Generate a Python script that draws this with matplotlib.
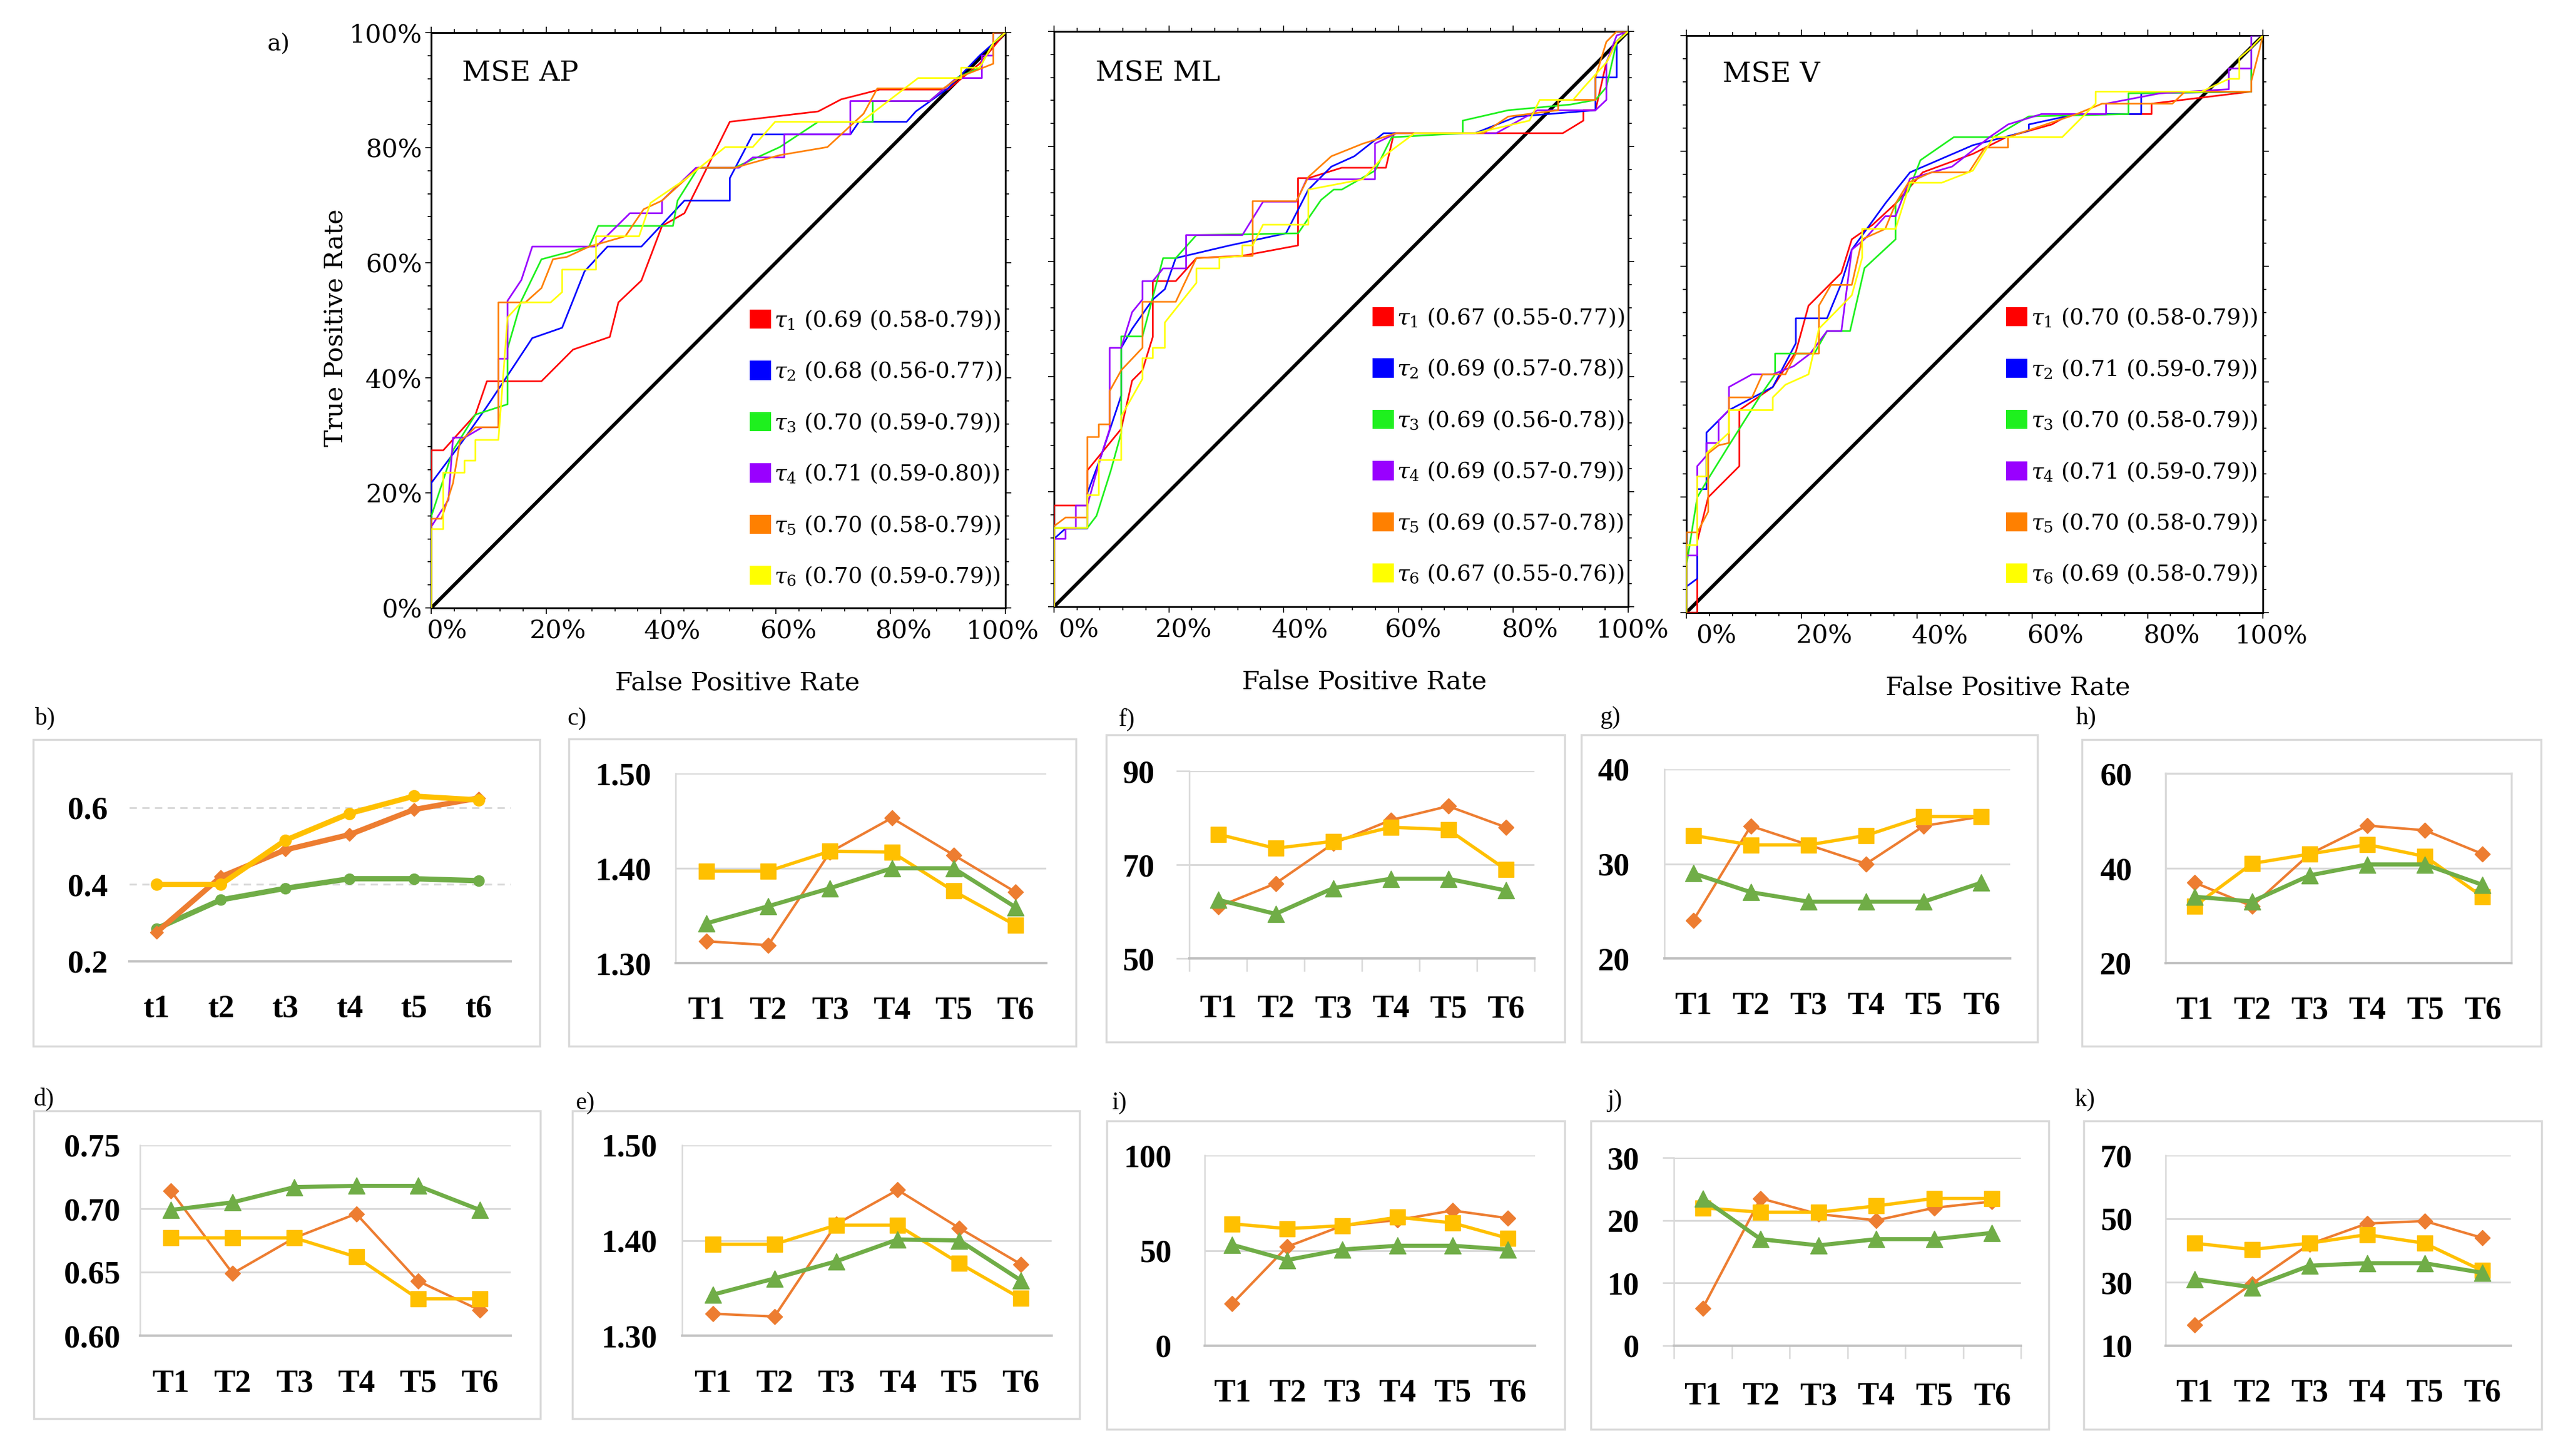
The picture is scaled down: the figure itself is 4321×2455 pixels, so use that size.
import matplotlib
matplotlib.use('Agg')
import matplotlib.pyplot as plt
from matplotlib.patches import Patch, Rectangle
from matplotlib.ticker import MultipleLocator, PercentFormatter, FixedLocator
from matplotlib.transforms import ScaledTranslation

plt.rcParams['font.family'] = ['DejaVu Serif']
plt.rcParams['mathtext.fontset'] = 'dejavuserif'

W, H = 4321, 2455
fig = plt.figure(figsize=(W / 100, H / 100), dpi=100)
fig.patch.set_facecolor('white')

# ---------------- ROC data (FPR, TPR) ----------------
tau_names = ['1', '2', '3', '4', '5', '6']
roc_colors = ['#FF0000', '#0000FF', '#1EF01E', '#9900FF', '#FF8000', '#FFFF00']
chance = [0, 1]
rate_ticks = [0, 0.2, 0.4, 0.6, 0.8, 1.0]

ap_auc = ['0.69 (0.58-0.79)', '0.68 (0.56-0.77)', '0.70 (0.59-0.79)',
          '0.71 (0.59-0.80)', '0.70 (0.58-0.79)', '0.70 (0.59-0.79)']
ml_auc = ['0.67 (0.55-0.77)', '0.69 (0.57-0.78)', '0.69 (0.56-0.78)',
          '0.69 (0.57-0.79)', '0.69 (0.57-0.78)', '0.67 (0.55-0.76)']
v_auc = ['0.70 (0.58-0.79)', '0.71 (0.59-0.79)', '0.70 (0.58-0.79)',
         '0.71 (0.59-0.79)', '0.70 (0.58-0.79)', '0.69 (0.58-0.79)']

ap_fpr_1 = [0, 0, 0.021, 0.077, 0.097, 0.192, 0.247, 0.311, 0.326, 0.366, 0.402, 0.441, 0.520, 0.674, 0.714, 0.781, 0.900, 0.955, 1.0]
ap_tpr_1 = [0, 0.274, 0.274, 0.336, 0.394, 0.394, 0.449, 0.471, 0.531, 0.569, 0.664, 0.686, 0.845, 0.863, 0.884, 0.901, 0.901, 0.946, 1.0]
ap_fpr_2 = [0, 0, 0.054, 0.097, 0.133, 0.176, 0.228, 0.267, 0.307, 0.366, 0.441, 0.520, 0.520, 0.560, 0.730, 0.745, 0.828, 0.844, 0.900, 0.955, 1.0]
ap_tpr_2 = [0, 0.217, 0.289, 0.350, 0.404, 0.469, 0.487, 0.585, 0.628, 0.628, 0.708, 0.708, 0.747, 0.823, 0.823, 0.845, 0.845, 0.863, 0.903, 0.960, 1.0]
ap_fpr_3 = [0, 0, 0.038, 0.077, 0.133, 0.133, 0.157, 0.192, 0.275, 0.291, 0.421, 0.429, 0.465, 0.528, 0.607, 0.674, 0.769, 0.769, 0.868, 0.915, 0.955, 0.979, 1.0]
ap_tpr_3 = [0, 0.159, 0.274, 0.336, 0.354, 0.451, 0.534, 0.606, 0.628, 0.664, 0.664, 0.708, 0.765, 0.765, 0.801, 0.845, 0.845, 0.881, 0.881, 0.921, 0.939, 0.982, 1.0]
ap_fpr_4 = [0, 0, 0.030, 0.038, 0.058, 0.089, 0.117, 0.117, 0.133, 0.133, 0.157, 0.176, 0.287, 0.346, 0.402, 0.402, 0.461, 0.536, 0.560, 0.615, 0.615, 0.730, 0.730, 0.868, 0.915, 0.959, 0.959, 0.979, 0.979, 1.0]
ap_tpr_4 = [0, 0.141, 0.188, 0.296, 0.296, 0.314, 0.314, 0.433, 0.433, 0.534, 0.570, 0.628, 0.628, 0.686, 0.686, 0.708, 0.765, 0.765, 0.783, 0.783, 0.823, 0.823, 0.881, 0.881, 0.921, 0.921, 0.960, 0.960, 1.0, 1.0]
ap_fpr_5 = [0, 0, 0.018, 0.038, 0.050, 0.077, 0.117, 0.117, 0.164, 0.192, 0.212, 0.236, 0.275, 0.338, 0.370, 0.402, 0.465, 0.528, 0.607, 0.690, 0.753, 0.777, 0.892, 0.923, 0.979, 0.979, 1.0]
ap_tpr_5 = [0, 0.155, 0.155, 0.217, 0.289, 0.314, 0.314, 0.531, 0.531, 0.556, 0.606, 0.610, 0.628, 0.646, 0.693, 0.708, 0.765, 0.765, 0.787, 0.801, 0.859, 0.903, 0.903, 0.924, 0.946, 1.0, 1.0]
ap_fpr_6 = [0, 0, 0.021, 0.021, 0.058, 0.058, 0.077, 0.077, 0.117, 0.133, 0.157, 0.208, 0.228, 0.228, 0.287, 0.287, 0.362, 0.382, 0.441, 0.512, 0.560, 0.599, 0.749, 0.848, 0.923, 0.923, 0.955, 0.979, 1.0]
ap_tpr_6 = [0, 0.137, 0.137, 0.235, 0.235, 0.256, 0.256, 0.292, 0.292, 0.505, 0.531, 0.531, 0.549, 0.588, 0.588, 0.646, 0.646, 0.704, 0.744, 0.801, 0.801, 0.845, 0.845, 0.921, 0.921, 0.939, 0.939, 0.982, 1.0]

ml_fpr_1 = [0, 0, 0.058, 0.058, 0.117, 0.136, 0.154, 0.172, 0.172, 0.212, 0.248, 0.328, 0.425, 0.425, 0.443, 0.501, 0.578, 0.592, 0.886, 0.922, 0.922, 0.943, 0.962, 0.980, 1.0]
ml_tpr_1 = [0, 0.176, 0.176, 0.237, 0.309, 0.393, 0.411, 0.469, 0.566, 0.566, 0.606, 0.610, 0.628, 0.745, 0.745, 0.763, 0.763, 0.823, 0.823, 0.845, 0.863, 0.863, 0.946, 0.982, 1.0]
ml_fpr_2 = [0, 0, 0.020, 0.058, 0.058, 0.081, 0.117, 0.117, 0.136, 0.172, 0.193, 0.212, 0.306, 0.404, 0.443, 0.483, 0.523, 0.574, 0.733, 0.806, 0.943, 0.943, 0.980, 0.980, 1.0]
ml_tpr_2 = [0, 0.118, 0.136, 0.136, 0.197, 0.259, 0.367, 0.450, 0.483, 0.534, 0.552, 0.606, 0.628, 0.649, 0.725, 0.765, 0.783, 0.823, 0.823, 0.852, 0.863, 0.920, 0.920, 0.982, 1.0]
ml_fpr_3 = [0, 0, 0.058, 0.074, 0.099, 0.117, 0.117, 0.154, 0.190, 0.212, 0.248, 0.425, 0.465, 0.487, 0.501, 0.559, 0.588, 0.712, 0.712, 0.791, 0.900, 0.943, 0.962, 0.980, 1.0]
ml_tpr_3 = [0, 0.137, 0.137, 0.158, 0.237, 0.302, 0.470, 0.470, 0.606, 0.606, 0.646, 0.649, 0.707, 0.725, 0.725, 0.758, 0.816, 0.823, 0.845, 0.863, 0.873, 0.881, 0.903, 0.982, 1.0]
ml_fpr_4 = [0, 0, 0.020, 0.020, 0.038, 0.038, 0.058, 0.081, 0.097, 0.097, 0.117, 0.136, 0.154, 0.154, 0.172, 0.190, 0.230, 0.230, 0.328, 0.364, 0.422, 0.440, 0.559, 0.559, 0.596, 0.770, 0.842, 0.943, 0.962, 0.962, 0.980, 1.0]
ml_tpr_4 = [0, 0.118, 0.118, 0.136, 0.136, 0.176, 0.176, 0.259, 0.309, 0.450, 0.450, 0.512, 0.534, 0.566, 0.566, 0.588, 0.588, 0.646, 0.646, 0.704, 0.704, 0.743, 0.743, 0.805, 0.823, 0.823, 0.863, 0.863, 0.881, 0.946, 0.993, 1.0]
ml_fpr_5 = [0, 0, 0.020, 0.058, 0.058, 0.078, 0.078, 0.097, 0.097, 0.117, 0.154, 0.154, 0.212, 0.248, 0.346, 0.346, 0.422, 0.443, 0.483, 0.538, 0.596, 0.748, 0.791, 0.878, 0.878, 0.943, 0.943, 0.962, 0.980, 1.0]
ml_tpr_5 = [0, 0.140, 0.155, 0.155, 0.295, 0.295, 0.317, 0.317, 0.375, 0.411, 0.450, 0.530, 0.530, 0.606, 0.610, 0.705, 0.705, 0.747, 0.783, 0.805, 0.823, 0.823, 0.852, 0.863, 0.881, 0.881, 0.920, 0.982, 1.0, 1.0]
ml_fpr_6 = [0, 0, 0.058, 0.058, 0.078, 0.078, 0.117, 0.117, 0.154, 0.154, 0.172, 0.172, 0.193, 0.193, 0.248, 0.248, 0.288, 0.288, 0.328, 0.328, 0.346, 0.364, 0.443, 0.443, 0.538, 0.574, 0.628, 0.733, 0.828, 0.846, 0.904, 0.922, 0.962, 0.980, 1.0]
ml_tpr_6 = [0, 0.137, 0.137, 0.194, 0.194, 0.255, 0.255, 0.331, 0.396, 0.432, 0.432, 0.450, 0.450, 0.494, 0.563, 0.588, 0.588, 0.606, 0.610, 0.628, 0.628, 0.664, 0.664, 0.725, 0.743, 0.783, 0.823, 0.823, 0.845, 0.881, 0.881, 0.902, 0.946, 0.982, 1.0]

v_fpr_1 = [0, 0.019, 0.019, 0.038, 0.092, 0.092, 0.150, 0.190, 0.212, 0.269, 0.287, 0.323, 0.363, 0.410, 0.497, 0.555, 0.634, 0.666, 0.807, 0.807, 0.980, 0.980, 1.0]
v_tpr_1 = [0, 0, 0.124, 0.200, 0.254, 0.351, 0.391, 0.452, 0.532, 0.589, 0.647, 0.672, 0.709, 0.763, 0.795, 0.824, 0.846, 0.864, 0.864, 0.882, 0.903, 1.0, 1.0]
v_fpr_2 = [0, 0, 0.019, 0.019, 0.035, 0.035, 0.074, 0.150, 0.190, 0.190, 0.244, 0.269, 0.287, 0.345, 0.388, 0.497, 0.594, 0.594, 0.677, 0.789, 0.789, 0.980, 0.980, 1.0]
v_tpr_2 = [0, 0.045, 0.059, 0.214, 0.214, 0.312, 0.351, 0.391, 0.467, 0.510, 0.510, 0.571, 0.629, 0.709, 0.763, 0.810, 0.835, 0.846, 0.864, 0.864, 0.900, 0.903, 1.0, 1.0]
v_fpr_3 = [0, 0, 0.019, 0.038, 0.074, 0.129, 0.154, 0.154, 0.222, 0.244, 0.284, 0.309, 0.363, 0.363, 0.385, 0.406, 0.464, 0.533, 0.594, 0.767, 0.767, 0.980, 0.980, 1.0]
v_tpr_3 = [0, 0.081, 0.200, 0.232, 0.290, 0.377, 0.413, 0.449, 0.449, 0.488, 0.488, 0.597, 0.647, 0.709, 0.730, 0.784, 0.824, 0.824, 0.860, 0.864, 0.900, 0.903, 1.0, 1.0]
v_fpr_4 = [0, 0, 0.019, 0.019, 0.035, 0.035, 0.056, 0.056, 0.074, 0.074, 0.114, 0.150, 0.186, 0.215, 0.244, 0.269, 0.287, 0.309, 0.345, 0.363, 0.388, 0.461, 0.526, 0.558, 0.616, 0.728, 0.728, 0.822, 0.941, 0.941, 0.980, 0.980, 1.0]
v_tpr_4 = [0, 0.099, 0.099, 0.254, 0.272, 0.294, 0.294, 0.333, 0.351, 0.391, 0.413, 0.413, 0.427, 0.449, 0.488, 0.488, 0.629, 0.647, 0.687, 0.687, 0.752, 0.773, 0.824, 0.846, 0.864, 0.864, 0.882, 0.900, 0.907, 0.943, 0.943, 1.0, 1.0]
v_fpr_5 = [0, 0, 0.019, 0.038, 0.038, 0.056, 0.074, 0.074, 0.114, 0.132, 0.172, 0.190, 0.230, 0.230, 0.251, 0.287, 0.305, 0.345, 0.363, 0.385, 0.425, 0.490, 0.518, 0.558, 0.558, 0.677, 0.721, 0.843, 0.865, 0.980, 0.980, 0.995, 1.0]
v_tpr_5 = [0, 0.139, 0.139, 0.175, 0.276, 0.290, 0.294, 0.373, 0.373, 0.413, 0.413, 0.449, 0.449, 0.532, 0.568, 0.568, 0.647, 0.665, 0.709, 0.745, 0.763, 0.763, 0.806, 0.806, 0.824, 0.864, 0.882, 0.882, 0.903, 0.903, 0.921, 0.979, 1.0]
v_fpr_6 = [0, 0, 0.019, 0.019, 0.035, 0.035, 0.074, 0.074, 0.150, 0.150, 0.172, 0.212, 0.230, 0.287, 0.305, 0.305, 0.363, 0.388, 0.443, 0.497, 0.533, 0.652, 0.710, 0.710, 0.894, 0.941, 0.959, 0.959, 0.980, 1.0]
v_tpr_6 = [0, 0.117, 0.117, 0.236, 0.236, 0.276, 0.312, 0.351, 0.351, 0.373, 0.395, 0.413, 0.492, 0.550, 0.615, 0.665, 0.665, 0.745, 0.745, 0.766, 0.824, 0.824, 0.882, 0.903, 0.903, 0.925, 0.925, 0.961, 0.979, 1.0]

# ---------------- line-chart data ----------------
cats_lower = ['t1', 't2', 't3', 't4', 't5', 't6']
cats_upper = ['T1', 'T2', 'T3', 'T4', 'T5', 'T6']

b_orange = [0.275, 0.42, 0.49, 0.53, 0.595, 0.625]
b_yellow = [0.40, 0.40, 0.515, 0.585, 0.63, 0.62]
b_green = [0.285, 0.36, 0.39, 0.415, 0.415, 0.41]

c_orange = [1.323, 1.319, 1.417, 1.453, 1.414, 1.375]
c_yellow = [1.397, 1.397, 1.418, 1.417, 1.376, 1.340]
c_green = [1.342, 1.360, 1.379, 1.400, 1.400, 1.359]

d_orange = [0.714, 0.649, 0.677, 0.696, 0.643, 0.620]
d_yellow = [0.677, 0.677, 0.677, 0.662, 0.629, 0.629]
d_green = [0.699, 0.705, 0.717, 0.718, 0.718, 0.699]

e_orange = [1.323, 1.320, 1.417, 1.453, 1.413, 1.375]
e_yellow = [1.396, 1.396, 1.416, 1.416, 1.376, 1.339]
e_green = [1.343, 1.360, 1.378, 1.401, 1.400, 1.358]

f_orange = [61, 66, 74.5, 79.5, 82.5, 78]
f_yellow = [76.5, 73.5, 75, 78, 77.5, 69]
f_green = [62.5, 59.5, 65, 67, 67, 64.5]

g_orange = [24, 34, 32, 30, 34, 35]
g_yellow = [33, 32, 32, 33, 35, 35]
g_green = [29, 27, 26, 26, 26, 28]

h_orange = [37, 32, 43, 49, 48, 43]
h_yellow = [32, 41, 43, 45, 42.5, 34]
h_green = [34, 33, 38.5, 40.8, 40.8, 36.5]

i_orange = [22, 52, 63, 66, 71, 67]
i_yellow = [64, 61.5, 63, 67.5, 64.5, 56.5]
i_green = [53, 45, 50.5, 52.5, 52.5, 50.5]

j_orange = [6, 23.5, 21, 20, 22, 23]
j_yellow = [22, 21.3, 21.3, 22.3, 23.5, 23.5]
j_green = [23.5, 17, 16, 17, 17, 18]

k_orange = [16.5, 29.5, 42, 48.5, 49.3, 44]
k_yellow = [42.3, 40.3, 42.3, 45, 42.3, 33.7]
k_green = [31, 28.4, 35.2, 36, 36, 33]


def frac(l, r, t, b):
    return [l / W, 1 - b / H, (r - l) / W, (b - t) / H]


# ---------------- ROC panels ----------------
roc_panels = [
    dict(rect=(727, 1695, 55, 1025), title='MSE AP', title_x=0.054, title_y=0.929,
         fpr=[ap_fpr_1, ap_fpr_2, ap_fpr_3, ap_fpr_4, ap_fpr_5, ap_fpr_6],
         tpr=[ap_tpr_1, ap_tpr_2, ap_tpr_3, ap_tpr_4, ap_tpr_5, ap_tpr_6],
         auc=ap_auc, ylab=True, xlab_x=0.533, leg_y=0.035,
         xoff=[26, 19, 19, 21, 21, -5]),
    dict(rect=(1777, 2745, 53, 1023), title='MSE ML', title_x=0.072, title_y=0.927,
         fpr=[ml_fpr_1, ml_fpr_2, ml_fpr_3, ml_fpr_4, ml_fpr_5, ml_fpr_6],
         tpr=[ml_tpr_1, ml_tpr_2, ml_tpr_3, ml_tpr_4, ml_tpr_5, ml_tpr_6],
         auc=ml_auc, ylab=False, xlab_x=0.541, leg_y=0.037,
         xoff=[41, 24, 27, 24, 27, 7]),
    dict(rect=(2843, 3815, 60, 1033), title='MSE V', title_x=0.063, title_y=0.932,
         fpr=[v_fpr_1, v_fpr_2, v_fpr_3, v_fpr_4, v_fpr_5, v_fpr_6],
         tpr=[v_tpr_1, v_tpr_2, v_tpr_3, v_tpr_4, v_tpr_5, v_tpr_6],
         auc=v_auc, ylab=False, xlab_x=0.558, leg_y=0.047,
         xoff=[50, 38, 39, 39, 40, 14]),
]

for p in roc_panels:
    ax = fig.add_axes(frac(*p['rect']))
    ax.plot(chance, chance, color='black', lw=4.2, zorder=2)
    for fx, ty, col in zip(p['fpr'], p['tpr'], roc_colors):
        ax.plot(fx, ty, color=col, lw=2.0, zorder=3)
    ax.set_xlim(0, 1)
    ax.set_ylim(0, 1)
    for axis in (ax.xaxis, ax.yaxis):
        axis.set_major_locator(FixedLocator(rate_ticks))
        axis.set_minor_locator(MultipleLocator(0.04))
        axis.set_major_formatter(PercentFormatter(1.0, decimals=0))
    ax.tick_params(which='both', direction='out', top=True, right=True,
                   width=1.4, color='#222222')
    ax.tick_params(which='major', length=7)
    ax.tick_params(which='minor', length=4)
    ax.tick_params(axis='x', labelsize=31, pad=6)
    ax.tick_params(axis='y', labelsize=31, pad=4, labelleft=p['ylab'])
    for s in ax.spines.values():
        s.set_linewidth(2.2)
    for lab, off in zip(ax.get_xticklabels(), p['xoff']):
        lab.set_transform(lab.get_transform() + ScaledTranslation(off / 100, 0, fig.dpi_scale_trans))
    ax.text(p['title_x'], p['title_y'], p['title'], transform=ax.transAxes,
            fontsize=34, va='center', ha='left')
    ax.set_xlabel('False Positive Rate', fontsize=31)
    ax.xaxis.label.set_va('center')
    ax.xaxis.set_label_coords(p['xlab_x'], -0.13)
    if p['ylab']:
        ax.set_ylabel('True Positive Rate', fontsize=31)
        ax.yaxis.label.set_va('center')
        ax.yaxis.set_label_coords(-0.166, 0.487)
    handles = [Patch(facecolor=c, edgecolor='none') for c in roc_colors]
    labels = [r'$\tau_{%s}$ (%s)' % (n, a) for n, a in zip(tau_names, p['auc'])]
    ax.legend(handles, labels, loc='lower left', bbox_to_anchor=(0.555, p['leg_y']),
              frameon=False, fontsize=27, handlelength=0.95, handleheight=0.95,
              handletextpad=0.15, labelspacing=1.28, borderpad=0, borderaxespad=0)

fig.text(450 / W, 1 - 75 / H, 'a)', fontsize=28, ha='left', va='center')

# ---------------- small line panels ----------------
GRID = '#D9D9D9'
AXLINE = '#BFBFBF'
BOXC = '#D9D9D9'
series_colors = ['#ED7D31', '#FFC000', '#70AD47']
TFONT = 'Liberation Serif'

small_panels = [
    dict(key='b)', box=(56, 1247, 910, 1764), plot=(218, 861, 1297, 1621), xlim=(-0.42, 5.5),
         ylim=(0.2, 0.7), yticks=[0.2, 0.4, 0.6], fmt='{:.1f}', cats=cats_lower,
         data=(b_orange, b_yellow, b_green), lab=(58, 1211), ypad=26, xpad=40, style='b'),
    dict(key='c)', box=(959, 1246, 1814, 1764), plot=(1139, 1764, 1304, 1624), xlim=(-0.5, 5.5),
         ylim=(1.30, 1.50), yticks=[1.30, 1.40, 1.50], fmt='{:.2f}', cats=cats_upper,
         data=(c_orange, c_yellow, c_green), lab=(956, 1212), ypad=29, xpad=40, style='std'),
    dict(key='f)', box=(1865, 1239, 2638, 1757), plot=(2005, 2587, 1300, 1616), xlim=(-0.5, 5.5),
         ylim=(50, 90), yticks=[50, 70, 90], fmt='{:.0f}', cats=cats_upper,
         data=(f_orange, f_yellow, f_green), lab=(1886, 1213), ypad=26, xpad=44, style='cat', ytick=16),
    dict(key='g)', box=(2666, 1239, 3435, 1757), plot=(2806, 3389, 1297, 1616), xlim=(-0.5, 5.5),
         ylim=(20, 40), yticks=[20, 30, 40], fmt='{:.0f}', cats=cats_upper,
         data=(g_orange, g_yellow, g_green), lab=(2697, 1210), ypad=42, xpad=40, style='std'),
    dict(key='h)', box=(3510, 1247, 4284, 1764), plot=(3651, 4234, 1304, 1624), xlim=(-0.5, 5.5),
         ylim=(20, 60), yticks=[20, 40, 60], fmt='{:.0f}', cats=cats_upper,
         data=(h_orange, h_yellow, h_green), lab=(3500, 1211), ypad=41, xpad=40, style='frame'),
    dict(key='d)', box=(57, 1873, 911, 2392), plot=(236, 861, 1931, 2252), xlim=(-0.5, 5.5),
         ylim=(0.60, 0.75), yticks=[0.60, 0.65, 0.70, 0.75], fmt='{:.2f}', cats=cats_upper,
         data=(d_orange, d_yellow, d_green), lab=(57, 1853), ypad=24, xpad=41, style='std'),
    dict(key='e)', box=(965, 1873, 1820, 2392), plot=(1150, 1773, 1931, 2252), xlim=(-0.5, 5.5),
         ylim=(1.30, 1.50), yticks=[1.30, 1.40, 1.50], fmt='{:.2f}', cats=cats_upper,
         data=(e_orange, e_yellow, e_green), lab=(970, 1860), ypad=30, xpad=41, style='std'),
    dict(key='i)', box=(1866, 1890, 2638, 2410), plot=(2031, 2588, 1948, 2269), xlim=(-0.5, 5.5),
         ylim=(0, 100), yticks=[0, 50, 100], fmt='{:.0f}', cats=cats_upper,
         data=(i_orange, i_yellow, i_green), lab=(1874, 1860), ypad=40, xpad=40, style='std'),
    dict(key='j)', box=(2682, 1890, 3454, 2410), plot=(2822, 3407, 1952, 2269), xlim=(-0.5, 5.5),
         ylim=(0, 30), yticks=[0, 10, 20, 30], fmt='{:.0f}', cats=cats_upper,
         data=(j_orange, j_yellow, j_green), lab=(2709, 1856), ypad=28, xpad=44, style='cat', ytick=14),
    dict(key='k)', box=(3513, 1890, 4285, 2410), plot=(3651, 4233, 1948, 2269), xlim=(-0.5, 5.5),
         ylim=(10, 70), yticks=[10, 30, 50, 70], fmt='{:.0f}', cats=cats_upper,
         data=(k_orange, k_yellow, k_green), lab=(3497, 1855), ypad=40, xpad=40, style='std'),
]

for p in small_panels:
    bl, bt, br, bb = p['box']
    fig.patches.append(Rectangle((bl / W, 1 - bb / H), (br - bl) / W, (bb - bt) / H,
                                 transform=fig.transFigure, fill=False, ec=BOXC, lw=2.5, zorder=0))
    fig.text(p['lab'][0] / W, 1 - p['lab'][1] / H, p['key'], fontsize=30,
             family=TFONT, ha='left', va='center')
    l, r, t, b = p['plot']
    ax = fig.add_axes(frac(l, r, t, b))
    ax.patch.set_alpha(0)
    ax.set_xlim(*p['xlim'])
    ax.set_ylim(*p['ylim'])
    xs = list(range(len(p['cats'])))
    ax.set_xticks(xs, labels=p['cats'], fontfamily=TFONT, fontweight='bold')
    ax.set_yticks(p['yticks'], labels=[p['fmt'].format(v) for v in p['yticks']],
                  fontfamily=TFONT, fontweight='bold')
    ax.tick_params(axis='x', length=0, pad=p['xpad'], labelsize=39)
    ax.tick_params(axis='y', length=p.get('ytick', 0), color=GRID, width=2,
                   pad=p['ypad'], labelsize=39)
    ax.set_axisbelow(True)
    if p['style'] == 'b':
        ax.grid(axis='y', color=GRID, lw=2.2, ls=(0, (4, 3)))
        ax.spines['left'].set_visible(False)
    else:
        ax.grid(axis='y', color=GRID, lw=2.2)
        ax.spines['left'].set_color(GRID)
        ax.spines['left'].set_linewidth(1.8)
    ax.spines['bottom'].set_color(AXLINE)
    ax.spines['bottom'].set_linewidth(2.8)
    if p['style'] == 'frame':
        for side in ('top', 'right', 'left'):
            ax.spines[side].set_color(GRID)
            ax.spines[side].set_linewidth(2.5)
    else:
        ax.spines['top'].set_visible(False)
        ax.spines['right'].set_visible(False)
    if p['style'] == 'cat':
        ax.set_xticks([x - 0.5 for x in xs] + [xs[-1] + 0.5], minor=True)
        ax.tick_params(axis='x', which='minor', length=16, color=GRID, width=1.8,
                       direction='out')
    orange, yellow, green = p['data']
    if p['style'] == 'b':
        ax.plot(xs, green, color=series_colors[2], lw=6.5, marker='o', ms=13,
                zorder=3, clip_on=False)
        ax.plot(xs, orange, color=series_colors[0], lw=6.5, marker='D', ms=11,
                zorder=4, clip_on=False)
        ax.plot(xs, yellow, color=series_colors[1], lw=6.5, marker='o', ms=14,
                zorder=5, clip_on=False)
    else:
        ax.plot(xs, orange, color=series_colors[0], lw=3, marker='D', ms=13,
                zorder=3, clip_on=False)
        ax.plot(xs, yellow, color=series_colors[1], lw=4, marker='s', ms=19,
                zorder=4, clip_on=False)
        ax.plot(xs, green, color=series_colors[2], lw=5, marker='^', ms=20,
                zorder=5, clip_on=False)

fig.savefig('out.png', dpi=100, facecolor='white')
